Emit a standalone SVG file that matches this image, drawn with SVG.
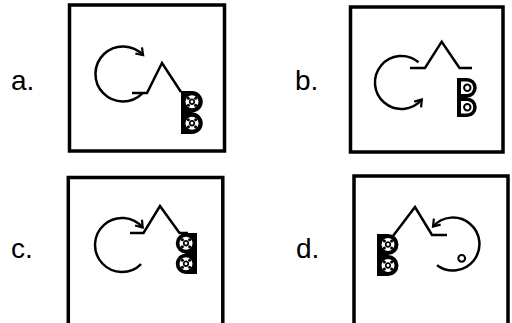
<svg xmlns="http://www.w3.org/2000/svg" width="512" height="323" viewBox="0 0 512 323">
<defs>
<style>
.frame{fill:none;stroke:#000;stroke-width:3.5}
.ln{fill:none;stroke:#000;stroke-width:2.5;stroke-linejoin:miter}
.lbl{font-family:"Liberation Sans",Arial,sans-serif;font-size:28px;fill:#000}
.blk{fill:#000}
.wh{fill:#fff}
</style>
<marker id="arr" markerUnits="userSpaceOnUse" markerWidth="12" markerHeight="12" refX="8" refY="6" orient="auto">
<path d="M1.5,1.5 L8,6 L1.5,10.5" fill="none" stroke="#000" stroke-width="2.2"/>
</marker>
<g id="lobeDeco">
<circle r="6.5" class="wh"/>
<circle r="2.3" fill="none" stroke="#000" stroke-width="1.7"/>
<circle cx="-3.6" cy="-3.6" r="1.5" class="blk"/>
<circle cx="3.6" cy="-3.6" r="1.5" class="blk"/>
<circle cx="-3.6" cy="3.6" r="1.5" class="blk"/>
<circle cx="3.6" cy="3.6" r="1.5" class="blk"/>
</g>
</defs>
<rect width="512" height="323" fill="#fff"/>

<text class="lbl" x="11" y="90">a.</text>
<text class="lbl" x="295" y="90">b.</text>
<text class="lbl" x="11" y="258">c.</text>
<text class="lbl" x="296" y="258">d.</text>

<g id="figA">
<rect class="frame" x="69.5" y="5" width="155" height="146"/>
<path class="ln" d="M142.4,93.4 A27.5,27.5 0 1 1 143.1,55.2" marker-end="url(#arr)"/>
<polyline class="ln" points="132,93 147,93 162,63 181,92"/>
<path class="blk" d="M181,91 H192 A10.75,10.75 0 0 1 192,112.5 A10.75,10.75 0 0 1 192,134 H181 Z"/>
<use href="#lobeDeco" x="192" y="101.75"/>
<use href="#lobeDeco" x="192" y="123.25"/>
</g>

<g id="figB">
<rect class="frame" x="350.5" y="7" width="152.5" height="145"/>
<path class="ln" d="M418.5,62.2 A26.5,26.5 0 1 0 421.8,99.5" marker-end="url(#arr)"/>
<polyline class="ln" points="410,68 425,68 441.7,41.7 459.5,68 472,68"/>
<path class="blk" d="M457,78 H467 A9.75,9.75 0 0 1 467,97.5 A9.75,9.75 0 0 1 467,117 H457 Z"/>
<path class="wh" d="M461,81.5 H467 A6.25,6.25 0 0 1 467,94 H461 Z"/>
<path class="wh" d="M461,101 H467 A6.25,6.25 0 0 1 467,113.5 H461 Z"/>
<circle cx="467.3" cy="87.75" r="3.2" fill="none" stroke="#000" stroke-width="2"/>
<circle cx="467.3" cy="107.25" r="3.2" fill="none" stroke="#000" stroke-width="2"/>
</g>

<g id="figC">
<rect class="frame" x="68.3" y="177.5" width="154.5" height="155"/>
<path class="ln" d="M141.1,264.1 A27,27 0 1 1 142.7,227.6" marker-end="url(#arr)"/>
<polyline class="ln" points="130,233 143.5,233 160,206 179.5,233 188,233"/>
<path class="blk" d="M197,233 H186 A10.25,10.25 0 0 0 186,253.5 A10.25,10.25 0 0 0 186,274 H197 Z"/>
<use href="#lobeDeco" x="186" y="243.25"/>
<use href="#lobeDeco" x="186" y="263.75"/>
</g>

<g id="figD">
<rect class="frame" x="354" y="176" width="154" height="155"/>
<path class="ln" d="M437,265.2 A26.5,26.5 0 1 0 433,226.6" marker-end="url(#arr)"/>
<polyline class="ln" points="393,236 415,207 432,235 447,235"/>
<path class="blk" d="M377,234 H388 A10.5,10.5 0 0 1 388,255 A10.5,10.5 0 0 1 388,276 H377 Z"/>
<use href="#lobeDeco" x="388" y="244.5"/>
<use href="#lobeDeco" x="388" y="265.5"/>
<circle cx="461.7" cy="258.3" r="3.4" fill="none" stroke="#000" stroke-width="2"/>
</g>
</svg>
